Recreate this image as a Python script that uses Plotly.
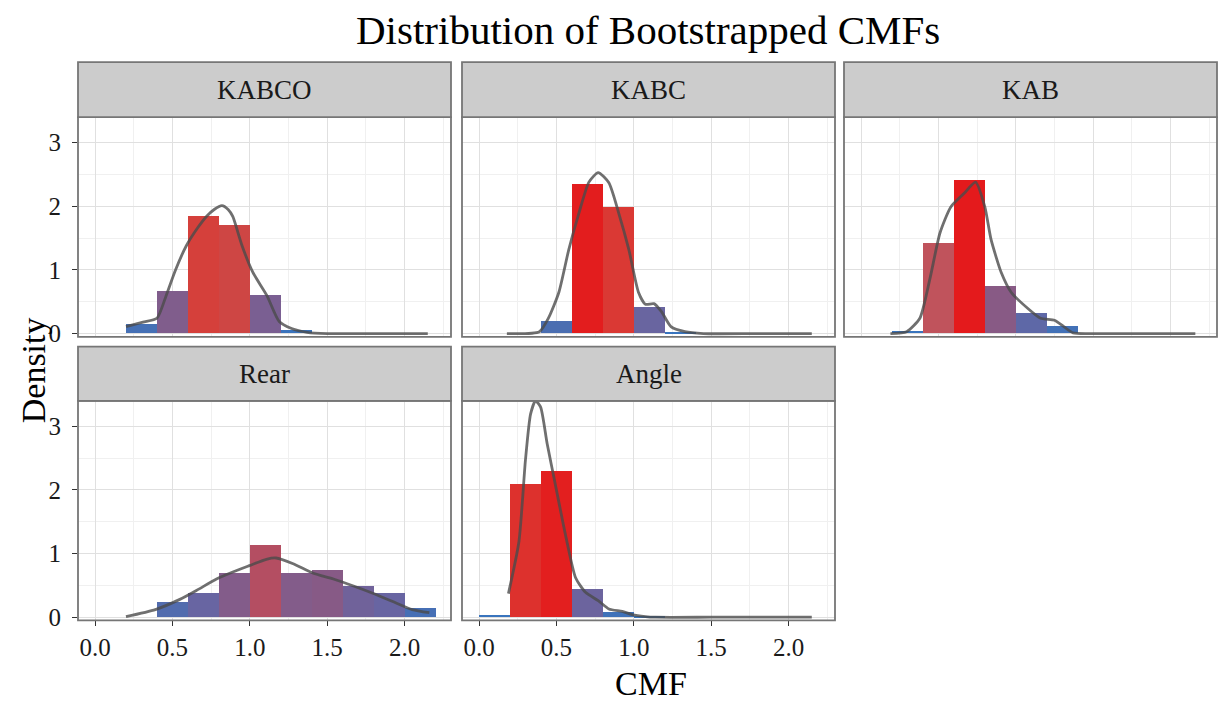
import plotly.graph_objects as go

W, H = 1225, 720

panels = ["KABCO", "KABC", "KAB", "Rear", "Angle"]
bin_left = [0.0, 0.2, 0.4, 0.6, 0.8, 1.0, 1.2, 1.4, 1.6, 1.8, 2.0]
bin_width = 0.2

dens_kabco = [0, 0.15, 0.67, 1.85, 1.70, 0.60, 0.05, 0, 0, 0, 0]
dens_kabc = [0, 0, 0.20, 2.34, 1.99, 0.41, 0.03, 0, 0, 0, 0]
dens_kab = [0, 0.04, 1.42, 2.41, 0.75, 0.32, 0.12, 0, 0, 0, 0]
dens_rear = [0, 0, 0.24, 0.39, 0.70, 1.14, 0.70, 0.74, 0.49, 0.39, 0.155]
dens_angle = [0.04, 2.09, 2.30, 0.44, 0.09, 0.01, 0, 0, 0, 0, 0]

kde_kabco_x = [0.20, 0.31, 0.40, 0.46, 0.52, 0.59, 0.66, 0.72, 0.77, 0.82, 0.86, 0.89, 0.95, 1.02, 1.11, 1.19, 1.27, 1.37, 1.50, 1.80, 2.15]
kde_kabco_y = [0.11, 0.18, 0.24, 0.60, 1.00, 1.38, 1.65, 1.84, 1.95, 2.01, 1.95, 1.84, 1.38, 0.96, 0.60, 0.19, 0.08, 0.02, 0.0, 0.0, 0.0]
kde_kabc_x = [0.18, 0.39, 0.45, 0.516, 0.58, 0.645, 0.71, 0.77, 0.839, 0.903, 0.968, 1.03, 1.075, 1.13, 1.18, 1.24, 1.33, 1.45, 1.80, 2.15]
kde_kabc_y = [0.0, 0.03, 0.25, 0.65, 1.32, 1.89, 2.38, 2.53, 2.37, 1.89, 1.32, 0.65, 0.46, 0.47, 0.34, 0.11, 0.03, 0.0, 0.0, 0.0]
kde_kab_x = [0.19, 0.295, 0.38, 0.445, 0.51, 0.58, 0.665, 0.74, 0.80, 0.84, 0.906, 0.97, 1.08, 1.16, 1.25, 1.31, 1.37, 1.50, 1.80, 2.16]
kde_kab_y = [0.0, 0.03, 0.24, 0.86, 1.58, 1.99, 2.20, 2.38, 1.99, 1.48, 0.96, 0.65, 0.39, 0.24, 0.21, 0.11, 0.01, 0.0, 0.0, 0.0]
kde_rear_x = [0.20, 0.39, 0.548, 0.655, 0.785, 0.89, 0.997, 1.107, 1.17, 1.28, 1.41, 1.54, 1.67, 1.79, 1.92, 2.05, 2.16]
kde_rear_y = [0.01, 0.12, 0.28, 0.42, 0.60, 0.71, 0.81, 0.91, 0.93, 0.84, 0.69, 0.60, 0.49, 0.38, 0.25, 0.12, 0.07]
kde_angle_x = [0.19, 0.258, 0.30, 0.333, 0.365, 0.398, 0.44, 0.495, 0.559, 0.624, 0.688, 0.77, 0.839, 0.925, 0.99, 1.075, 1.14, 1.50, 1.80, 2.15]
kde_angle_y = [0.37, 1.19, 2.47, 3.19, 3.40, 3.30, 2.73, 2.06, 1.29, 0.62, 0.39, 0.26, 0.13, 0.09, 0.04, 0.01, 0.0, 0.0, 0.0, 0.0]

x_ticks = [0.0, 0.5, 1.0, 1.5, 2.0]
x_ticklabels = ["0.0", "0.5", "1.0", "1.5", "2.0"]
y_ticks = [0, 1, 2, 3]
y_ticklabels = ["0", "1", "2", "3"]

dens_all = [dens_kabco, dens_kabc, dens_kab, dens_rear, dens_angle]
kde_all = [(kde_kabco_x, kde_kabco_y), (kde_kabc_x, kde_kabc_y), (kde_kab_x, kde_kab_y),
           (kde_rear_x, kde_rear_y), (kde_angle_x, kde_angle_y)]

fill_scale = [
    [0.0, "#3575c0"], [0.08, "#4a6eb2"], [0.15, "#6566a4"], [0.30, "#855b88"],
    [0.47, "#b44e62"], [0.59, "#c0535c"], [0.70, "#cd4745"], [0.77, "#d5403b"],
    [0.83, "#da3833"], [0.95, "#e3201f"], [1.0, "#e41a1c"],
]
cmax = max(max(d) for d in dens_all)

# panel pixel boxes: (x0, x1, strip_top, plot_top, plot_bottom)
cols = [(78, 451), (462, 835), (844, 1217)]
rows = [(63, 119, 342), (352, 407, 630)]
boxes = []
for i in range(5):
    r, c = divmod(i, 3)
    boxes.append((cols[c][0], cols[c][1], rows[r][0], rows[r][1], rows[r][2]))

FONT = "Liberation Serif, Times New Roman, serif"
BORDER = "#767676"

fig = go.Figure()
layout = dict(width=W, height=H, margin=dict(l=0, r=0, t=0, b=0),
              paper_bgcolor="white", plot_bgcolor="white", showlegend=False,
              bargap=0, barmode="overlay", font=dict(family=FONT, color="black"))
shapes = []
annotations = []

for i, name in enumerate(panels):
    n = "" if i == 0 else str(i + 1)
    xa, ya = "x" + n, "y" + n
    x0, x1, st, pt, pb = boxes[i]
    dens = dens_all[i]
    bx = [b + bin_width / 2 for b, d in zip(bin_left, dens) if d > 0]
    by = [d for d in dens if d > 0]
    fig.add_trace(go.Bar(x=bx, y=by, width=bin_width, xaxis=xa, yaxis=ya,
                         marker=dict(color=by, colorscale=fill_scale, cmin=0, cmax=cmax,
                                     line=dict(width=0)),
                         hoverinfo="x+y"))
    kx, ky = kde_all[i]
    fig.add_trace(go.Scatter(x=kx, y=ky, mode="lines", xaxis=xa, yaxis=ya,
                             line=dict(color="rgba(75,75,75,0.8)", width=2.8,
                                       shape="spline", smoothing=0.6)))
    bottom_row = i >= 3
    left_col = i in (0, 3)
    layout["xaxis" + n] = dict(
        domain=[x0 / W, x1 / W], anchor=ya, range=[-0.11, 2.30],
        tickvals=x_ticks, ticktext=x_ticklabels,
        showticklabels=bottom_row, ticks="outside" if bottom_row else "",
        ticklen=5, tickwidth=1.3, tickcolor="#333333",
        tickfont=dict(family=FONT, size=25, color="#1a1a1a"),
        showgrid=True, gridcolor="#e0e0e0", gridwidth=1.2, zeroline=False,
        minor=dict(dtick=0.25, tick0=0.25, showgrid=True, gridcolor="#f0f0f0", gridwidth=0.8),
        showline=False, fixedrange=True)
    layout["yaxis" + n] = dict(
        domain=[1 - pb / H, 1 - pt / H], anchor=xa, range=[-0.05, 3.40],
        tickvals=y_ticks, ticktext=y_ticklabels,
        showticklabels=left_col, ticks="outside" if left_col else "",
        ticklen=5, tickwidth=1.3, tickcolor="#333333", ticklabelstandoff=6,
        tickfont=dict(family=FONT, size=25, color="#1a1a1a"),
        showgrid=True, gridcolor="#e0e0e0", gridwidth=1.2, zeroline=False,
        minor=dict(dtick=0.5, tick0=0.5, showgrid=True, gridcolor="#f0f0f0", gridwidth=0.8),
        showline=False, fixedrange=True)
    # panel border
    shapes.append(dict(type="rect", xref="paper", yref="paper",
                       x0=x0 / W, x1=x1 / W, y0=1 - pb / H, y1=1 - pt / H,
                       line=dict(color=BORDER, width=1.8), fillcolor="rgba(0,0,0,0)", layer="above"))
    # strip
    shapes.append(dict(type="rect", xref="paper", yref="paper",
                       x0=x0 / W, x1=x1 / W, y0=1 - pt / H, y1=1 - st / H,
                       line=dict(color=BORDER, width=1.8), fillcolor="#cccccc", layer="above"))
    annotations.append(dict(text=name, xref="paper", yref="paper",
                            x=(x0 + x1) / 2 / W, y=1 - (st + pt) / 2 / H,
                            xanchor="center", yanchor="middle", showarrow=False,
                            font=dict(family=FONT, size=27, color="#1a1a1a")))

annotations.append(dict(text="Distribution of Bootstrapped CMFs", xref="paper", yref="paper",
                        x=648 / W, y=1 - 30 / H, xanchor="center", yanchor="middle",
                        showarrow=False, font=dict(family=FONT, size=41, color="black")))
annotations.append(dict(text="CMF", xref="paper", yref="paper",
                        x=651 / W, y=1 - 694 / H, xanchor="center", yanchor="middle",
                        showarrow=False, font=dict(family=FONT, size=34, color="black")))
annotations.append(dict(text="Density", xref="paper", yref="paper",
                        x=33 / W, y=1 - 376 / H, xanchor="center", yanchor="middle",
                        textangle=-90, showarrow=False,
                        font=dict(family=FONT, size=34, color="black")))

layout["shapes"] = shapes
layout["annotations"] = annotations
fig.update_layout(**layout)
fig.write_html("out.html")
